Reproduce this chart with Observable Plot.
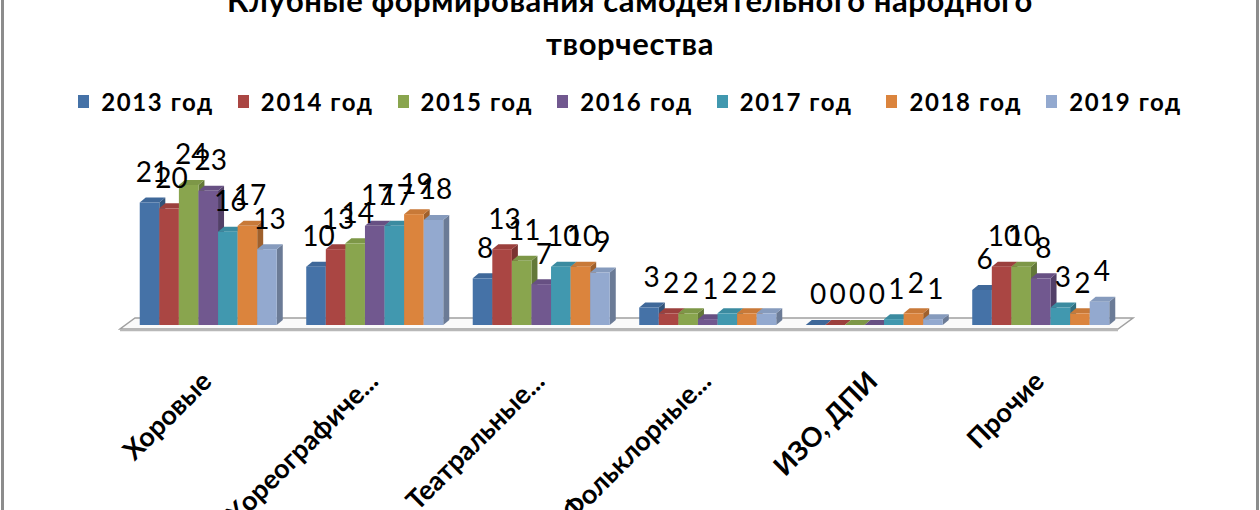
<!DOCTYPE html>
<html><head><meta charset="utf-8">
<script src="https://cdn.jsdelivr.net/npm/d3@7"></script>
<script src="https://cdn.jsdelivr.net/npm/@observablehq/plot@0.6"></script>
<style>
html,body{margin:0;padding:0;background:#fff;}
#wrap{position:relative;width:1260px;height:510px;overflow:hidden;font-family:Lato,"Open Sans",sans-serif;}
#border{position:absolute;left:1px;top:-20px;width:1252px;height:560px;border:3px solid #8c8c8c;box-sizing:content-box;}
.title{position:absolute;left:0;width:1260px;text-align:center;font-weight:bold;font-size:31px;letter-spacing:0.6px;color:#000;white-space:nowrap;}
#legend{position:absolute;left:0;top:87px;width:1260px;display:flex;justify-content:center;align-items:center;gap:0;font-weight:bold;font-size:24px;letter-spacing:1.6px;}
.item{display:flex;align-items:center;margin:0 12px;}
.sw{width:11px;height:13px;margin-right:12px;}
#chart{position:absolute;left:0;top:0;}
</style></head><body>
<div id="wrap">
<div id="border"></div>
<div class="title" id="t1" style="top:-19px"></div>
<div class="title" id="t2" style="top:24px"></div>
<div id="legend"></div>
<div id="chart"></div>
</div>
<script>
const titleLines = ["Клубные формирования самодеятельного народного", "творчества"];
const categories = ["Хоровые", "Хореографиче...", "Театральные...", "Фольклорные...", "ИЗО, ДПИ", "Прочие"];
const years = ["2013 год", "2014 год", "2015 год", "2016 год", "2017 год", "2018 год", "2019 год"];
const v2013 = [21, 10, 8, 3, 0, 6];
const v2014 = [20, 13, 13, 2, 0, 10];
const v2015 = [24, 14, 11, 2, 0, 10];
const v2016 = [23, 17, 7, 1, 0, 8];
const v2017 = [16, 17, 10, 2, 1, 3];
const v2018 = [17, 19, 10, 2, 2, 2];
const v2019 = [13, 18, 9, 2, 1, 4];
const colors = ["#4572A7", "#AA4643", "#89A54E", "#71588F", "#4198AF", "#DB843D", "#93A9CF"];

const series = [v2013, v2014, v2015, v2016, v2017, v2018, v2019];
const data = [];
categories.forEach((c, i) => series.forEach((s, j) => data.push({cat: c, ci: i, year: years[j], yj: j, value: s[i], color: colors[j]})));

document.getElementById("t1").textContent = titleLines[0];
document.getElementById("t2").textContent = titleLines[1];
const leg = document.getElementById("legend");
years.forEach((y, j) => {
  const it = document.createElement("div"); it.className = "item";
  if (j === 5) it.style.marginLeft = "22px";
  const sw = document.createElement("div"); sw.className = "sw"; sw.style.background = colors[j];
  const tx = document.createElement("span"); tx.textContent = y;
  it.appendChild(sw); it.appendChild(tx); leg.appendChild(it);
});

const groupW = 0.823;           // share of a category slot filled by its bars
const bw = groupW / years.length;
const x1 = d => d.ci - groupW / 2 + d.yj * bw;
const x2 = d => x1(d) + bw;
const xc = d => x1(d) + bw / 2;
const DX = 6, DY = -5;
const NS = "http://www.w3.org/2000/svg";

function bars3d(index, scales, values, dims, ctx, next) {
  const g = next(index, scales, values, dims, ctx);
  const rects = Array.from(g.querySelectorAll("rect"));
  rects.forEach(r => {
    const x = +r.getAttribute("x"), y = +r.getAttribute("y");
    const w = +r.getAttribute("width"), h = +r.getAttribute("height");
    const fill = r.getAttribute("fill");
    const side = document.createElementNS(NS, "polygon");
    side.setAttribute("points", `${x+w},${y} ${x+w+DX},${y+DY} ${x+w+DX},${y+h+DY} ${x+w},${y+h}`);
    side.setAttribute("fill", d3.color(fill).darker(0.9).formatHex());
    const top = document.createElementNS(NS, "polygon");
    top.setAttribute("points", `${x},${y} ${x+DX},${y+DY} ${x+w+DX},${y+DY} ${x+w},${y}`);
    top.setAttribute("fill", d3.color(fill).darker(0.25).formatHex());
    r.parentNode.insertBefore(side, r);
    r.parentNode.insertBefore(top, r);
  });
  return g;
}

function floor(index, scales, values, dims) {
  const L = dims.marginLeft, R = dims.width - dims.marginRight;
  const y0 = scales.y(0);
  const g = document.createElementNS(NS, "g");
  const p = document.createElementNS(NS, "polygon");
  p.setAttribute("points", `${L-5},${y0+4} ${R-6},${y0+4} ${R+9},${y0-7} ${L+10},${y0-7}`);
  p.setAttribute("fill", "#fafafa");
  p.setAttribute("stroke", "#a0a0a0");
  p.setAttribute("stroke-width", "1.5");
  g.appendChild(p);
  const e = document.createElementNS(NS, "line");
  e.setAttribute("x1", L-5); e.setAttribute("x2", R-6);
  e.setAttribute("y1", y0+5.5); e.setAttribute("y2", y0+5.5);
  e.setAttribute("stroke", "#b8b8b8"); e.setAttribute("stroke-width", "1.5");
  g.appendChild(e);
  return g;
}

const chart = Plot.plot({
  width: 1260,
  height: 510,
  marginLeft: 125,
  marginRight: 136,
  marginTop: 185,
  marginBottom: 185,
  style: {background: "transparent", overflow: "visible"},
  x: {type: "linear", domain: [-0.5, categories.length - 0.5], axis: null},
  y: {domain: [0, 24], axis: null},
  color: {type: "identity"},
  marks: [
    Plot.ruleY([0], {render: floor}),
    Plot.rectY(data, {x1, x2, y1: 0, y2: "value", fill: "color", render: bars3d}),
    Plot.text(data, {x: xc, y: "value", text: d => String(d.value), dy: -30, dx: 2,
      fontSize: 28, fill: "#000", fontFamily: "Lato, 'Open Sans', sans-serif", lineAnchor: "middle"}),
    Plot.text(categories, {x: (d, i) => i, y: () => 0, text: d => d, rotate: -45, textAnchor: "end",
      lineAnchor: "top", dy: 44, dx: -9, fontSize: 27, fontWeight: "bold", fill: "#000",
      fontFamily: "Lato, 'Open Sans', sans-serif"})
  ]
});
document.getElementById("chart").appendChild(chart);
</script>
</body></html>
